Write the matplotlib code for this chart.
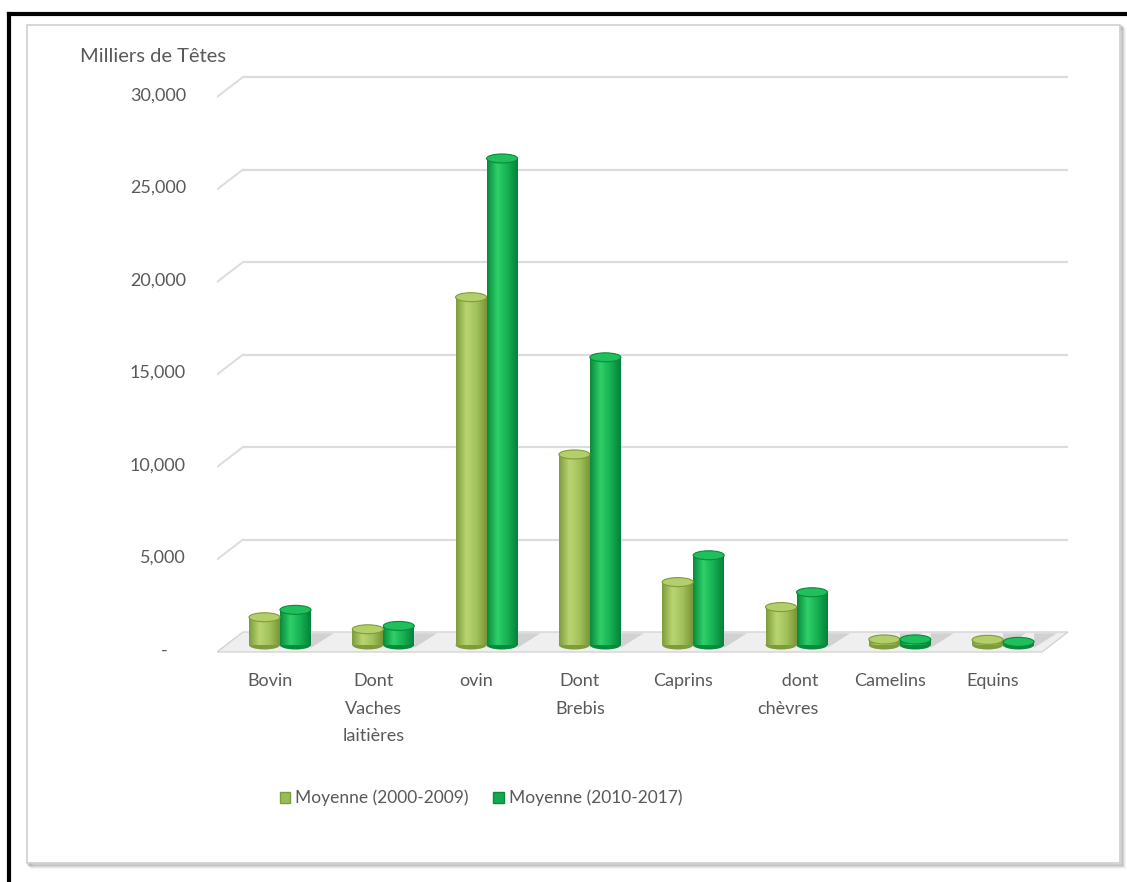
import numpy as np
import matplotlib
matplotlib.use("Agg")
import matplotlib.pyplot as plt
import matplotlib.patches as mpatches
from matplotlib.colors import LinearSegmentedColormap

# Data (milliers de têtes)
categories = ["Bovin", "Dont\nVaches\nlaitières", "ovin", "Dont\nBrebis",
              "Caprins", "      dont\nchèvres", "Camelins", "Equins"]
moy_2000_2009 = [1500, 850, 18800, 10300, 3400, 2050, 300, 280]
moy_2010_2017 = [1900, 1030, 26300, 15550, 4850, 2850, 300, 170]
series_names = ["Moyenne (2000-2009)", "Moyenne (2010-2017)"]
y_ticks = [0, 5000, 10000, 15000, 20000, 25000, 30000]
y_tick_labels = ["-    ", "5,000", "10,000", "15,000", "20,000", "25,000", "30,000"]

# Colors
OLIVE = '#9bbb59'
GREEN = '#13a94d'
OLIVE_GRAD = ['#7f9c3c', '#b9d572', '#a2c25c', '#7a9638']
GREEN_GRAD = ['#0a8a3c', '#2fd06a', '#16b052', '#07813a']
OLIVE_TOP = '#b3cf6a'
GREEN_TOP = '#1fbf5c'
TEXT = '#595959'

plt.rcParams['font.family'] = ['Lato', 'DejaVu Sans']

W, H = 1127, 882
fig = plt.figure(figsize=(W / 100, H / 100), dpi=100)

# axes placement in pixels (from top-left of the image)
ax_l, ax_r, ax_t, ax_b = 217, 1075, 70, 660
ax = fig.add_axes([ax_l / W, 1 - ax_b / H, (ax_r - ax_l) / W, (ax_b - ax_t) / H])

unit_px = 103.3            # pixels per category
ypx = 555 / 30000          # pixels per unit on y
x_min = -(280 - ax_l) / unit_px
x_max = x_min + (ax_r - ax_l) / unit_px
y_min = -(ax_b - 645) / ypx
y_max = (645 - ax_t) / ypx
ax.set_xlim(x_min, x_max)
ax.set_ylim(y_min, y_max)
ax.axis('off')

depth_up = 13 / ypx        # back wall shift
front_down = 7 / ypx       # front edge shift
depth_x = 26 / unit_px
right_end = x_min + (1068 - ax_l) / unit_px

# back wall gridlines with little 3D side
for v in y_ticks[1:]:
    ax.plot([x_min + depth_x, right_end], [v + depth_up, v + depth_up],
            color='#dcdcdc', lw=1.6, zorder=0.5, solid_capstyle='butt')
    ax.plot([x_min, x_min + depth_x], [v - front_down, v + depth_up],
            color='#dcdcdc', lw=1.4, zorder=0.5)

# floor
floor = mpatches.Polygon([[x_min, -front_down], [right_end - depth_x, -front_down],
                          [right_end, depth_up], [x_min + depth_x, depth_up]],
                         closed=True, facecolor='#efefef', edgecolor='#d4d4d4',
                         lw=1, zorder=1)
ax.add_patch(floor)

# y labels on the front plane
for v, lab in zip(y_ticks, y_tick_labels):
    ax.text(x_min - 31 / unit_px, v - 300, lab, ha='right', va='center',
            fontsize=13, color=TEXT, clip_on=False)

x = np.arange(len(categories))
bw = 0.3
offsets = [-0.15, 0.15]
ell_h = 9 / ypx

for vals, off, grad, top_c, base_c in [
        (moy_2000_2009, offsets[0], OLIVE_GRAD, OLIVE_TOP, OLIVE),
        (moy_2010_2017, offsets[1], GREEN_GRAD, GREEN_TOP, GREEN)]:
    cmap = LinearSegmentedColormap.from_list('cyl', grad)
    bars = ax.bar(x + off, vals, width=bw, color=base_c, zorder=3, lw=0)
    for b, v in zip(bars, vals):
        x0 = b.get_x()
        x1 = x0 + b.get_width()
        xc = x0 + b.get_width() / 2
        # floor shadow
        sh = mpatches.Polygon([[x1, -front_down * 0.4], [x1 + 0.22, depth_up * 0.9],
                               [x1, depth_up * 0.9]], closed=True,
                              facecolor='#9a9a9a', alpha=0.35, lw=0, zorder=1.5)
        ax.add_patch(sh)
        bottom = mpatches.Ellipse((xc, 0), b.get_width(), ell_h,
                                  facecolor=grad[0], lw=0, zorder=2.5)
        ax.add_patch(bottom)
        im = ax.imshow(np.linspace(0, 1, 64)[None, :], cmap=cmap,
                       extent=[x0, x1, 0, v], aspect='auto', zorder=3,
                       interpolation='bicubic')
        im.set_clip_path(b)
        top = mpatches.Ellipse((xc, v), b.get_width(), ell_h,
                               facecolor=top_c, edgecolor=grad[0], lw=0.8, zorder=4)
        ax.add_patch(top)

ax.set_xlim(x_min, x_max)
ax.set_ylim(y_min, y_max)

# category labels (shifted a little to the left, like the 3D front axis)
for i, lab in enumerate(categories):
    ax.text(i - 10 / unit_px, -28 / ypx, lab, ha='center', va='top',
            multialignment='right' if 'dont' in lab else 'center',
            fontsize=13, color=TEXT, linespacing=1.9, clip_on=False)

# axis title
fig.text(80 / W, 1 - 57 / H, "Milliers de Têtes", ha='left', va='center',
         fontsize=14.5, color=TEXT)

# legend
handles = [mpatches.Patch(facecolor=OLIVE, edgecolor='#7f9c3c', label=series_names[0]),
           mpatches.Patch(facecolor=GREEN, edgecolor='#0a8a3c', label=series_names[1])]
leg = fig.legend(handles=handles, loc='center', bbox_to_anchor=(481 / W, 1 - 798 / H),
                 ncol=2, frameon=False, fontsize=12.5, handlelength=0.6,
                 handleheight=0.6, handletextpad=0.3, columnspacing=1.4)
for t in leg.get_texts():
    t.set_color(TEXT)

# chart frame with soft shadow
for k, a in enumerate([0.12, 0.09, 0.06, 0.04]):
    d = k + 1
    fig.add_artist(mpatches.Rectangle(((27 + d) / W, 1 - (863 + d) / H),
                                      (1120 - 27) / W, (863 - 25) / H,
                                      transform=fig.transFigure, facecolor='none',
                                      edgecolor='black', alpha=a, lw=2, zorder=-1))
fig.add_artist(mpatches.Rectangle((27 / W, 1 - 863 / H), (1120 - 27) / W, (863 - 25) / H,
                                  transform=fig.transFigure, facecolor='white',
                                  edgecolor='#cfcfcf', lw=1.2, zorder=-0.5))

# black crop border on top and left
fig.add_artist(plt.Line2D([9 / W, 1], [1 - 14 / H, 1 - 14 / H], transform=fig.transFigure,
                          color='black', lw=3))
fig.add_artist(plt.Line2D([9 / W, 9 / W], [0, 1 - 14 / H], transform=fig.transFigure,
                          color='black', lw=3))

fig.savefig('out.png', dpi=100)
